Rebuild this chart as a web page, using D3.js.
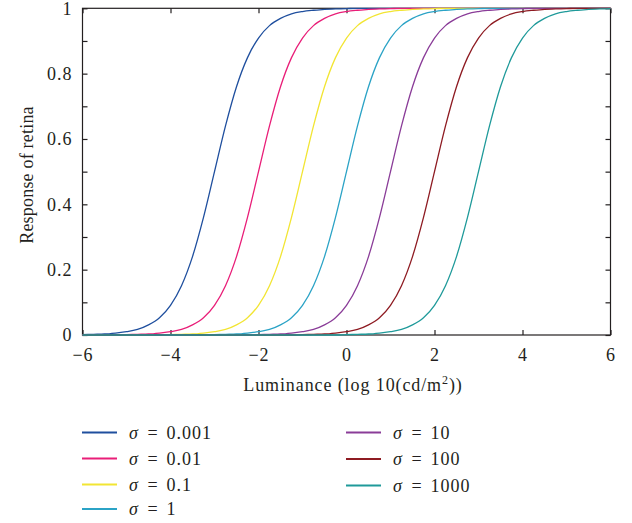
<!DOCTYPE html>
<html>
<head>
<meta charset="utf-8">
<script src="https://cdn.jsdelivr.net/npm/d3@7"></script>
<style>
  html, body { margin: 0; padding: 0; background: #fff; }
  svg { display: block; }
  text { font-family: "Liberation Serif", "DejaVu Serif", serif; fill: #231f20; }
</style>
</head>
<body>
<svg id="chart" width="632" height="523"></svg>
<script>
(function () {
// ---- data ----
const luminance = [-6,-5.75,-5.5,-5.25,-5,-4.75,-4.5,-4.25,-4,-3.75,-3.5,-3.25,-3,-2.75,-2.5,-2.25,-2,-1.75,-1.5,-1.25,-1,-0.75,-0.5,-0.25,0,0.25,0.5,0.75,1,1.25,1.5,1.75,2,2.25,2.5,2.75,3,3.25,3.5,3.75,4,4.25,4.5,4.75,5,5.25,5.5,5.75,6];

const sigmaLabels = ["0.001", "0.01", "0.1", "1", "10", "100", "1000"];

const resp0001 = [0.001,0.002,0.003,0.006,0.010,0.017,0.031,0.053,0.091,0.151,0.240,0.360,0.500,0.640,0.760,0.849,0.909,0.947,0.969,0.983,0.990,0.994,0.997,0.998,0.999,1,1,1,1,1,1,1,1,1,1,1,1,1,1,1,1,1,1,1,1,1,1,1,1];
const resp001 = [0,0,0,0,0.001,0.002,0.003,0.006,0.010,0.017,0.031,0.053,0.091,0.151,0.240,0.360,0.500,0.640,0.760,0.849,0.909,0.947,0.969,0.983,0.990,0.994,0.997,0.998,0.999,1,1,1,1,1,1,1,1,1,1,1,1,1,1,1,1,1,1,1,1];
const resp01 = [0,0,0,0,0,0,0,0,0.001,0.002,0.003,0.006,0.010,0.017,0.031,0.053,0.091,0.151,0.240,0.360,0.500,0.640,0.760,0.849,0.909,0.947,0.969,0.983,0.990,0.994,0.997,0.998,0.999,1,1,1,1,1,1,1,1,1,1,1,1,1,1,1,1];
const resp1 = [0,0,0,0,0,0,0,0,0,0,0,0,0.001,0.002,0.003,0.006,0.010,0.017,0.031,0.053,0.091,0.151,0.240,0.360,0.500,0.640,0.760,0.849,0.909,0.947,0.969,0.983,0.990,0.994,0.997,0.998,0.999,1,1,1,1,1,1,1,1,1,1,1,1];
const resp10 = [0,0,0,0,0,0,0,0,0,0,0,0,0,0,0,0,0.001,0.002,0.003,0.006,0.010,0.017,0.031,0.053,0.091,0.151,0.240,0.360,0.500,0.640,0.760,0.849,0.909,0.947,0.969,0.983,0.990,0.994,0.997,0.998,0.999,1,1,1,1,1,1,1,1];
const resp100 = [0,0,0,0,0,0,0,0,0,0,0,0,0,0,0,0,0,0,0,0,0.001,0.002,0.003,0.006,0.010,0.017,0.031,0.053,0.091,0.151,0.240,0.360,0.500,0.640,0.760,0.849,0.909,0.947,0.969,0.983,0.990,0.994,0.997,0.998,0.999,1,1,1,1];
const resp1000 = [0,0,0,0,0,0,0,0,0,0,0,0,0,0,0,0,0,0,0,0,0,0,0,0,0.001,0.002,0.003,0.006,0.010,0.017,0.031,0.053,0.091,0.151,0.240,0.360,0.500,0.640,0.760,0.849,0.909,0.947,0.969,0.983,0.990,0.994,0.997,0.998,0.999];

const xTicks = [-6, -4, -2, 0, 2, 4, 6];
const yTicksMajor = [0, 0.2, 0.4, 0.6, 0.8, 1];
const yTicksMinor = [0, 0.1, 0.2, 0.3, 0.4, 0.5, 0.6, 0.7, 0.8, 0.9, 1];

const seriesValues = [resp0001, resp001, resp01, resp1, resp10, resp100, resp1000];
const colors = ["#1f4f9e", "#e91e78", "#f2e533", "#2ba3c6", "#8a3c98", "#8e1b22", "#1f9a9a"];

// ---- layout ----
const svg = d3.select("#chart");
const x = d3.scaleLinear().domain([-6, 6]).range([82.5, 610.5]);
const y = d3.scaleLinear().domain([0, 1]).range([335, 8.3]);
const tickLen = 5;
const ink = "#231f20";
const FS = 18;

// frame
svg.append("rect")
  .attr("x", x(-6)).attr("y", y(1))
  .attr("width", x(6) - x(-6)).attr("height", y(0) - y(1))
  .attr("fill", "none").attr("stroke", ink).attr("stroke-width", 1.2);

// bottom axis (inward ticks)
const axB = svg.append("g").attr("transform", `translate(0,${y(0)})`)
  .call(d3.axisBottom(x).tickValues(xTicks).tickSizeInner(-tickLen).tickSizeOuter(0)
    .tickFormat(d => d < 0 ? "\u2212" + Math.abs(d) : String(d)).tickPadding(13));
axB.select(".domain").remove();
axB.selectAll("line").attr("stroke", ink).attr("stroke-width", 1.2);
axB.selectAll("text").attr("font-size", FS).attr("font-family", '"Liberation Serif", serif')
  .attr("fill", ink).attr("letter-spacing", 1);

// top axis ticks
const axT = svg.append("g").attr("transform", `translate(0,${y(1)})`)
  .call(d3.axisTop(x).tickValues(xTicks).tickSizeInner(-tickLen).tickSizeOuter(0).tickFormat(""));
axT.select(".domain").remove();
axT.selectAll("line").attr("stroke", ink).attr("stroke-width", 1.2);

// left axis: minor ticks + labels
const axL = svg.append("g").attr("transform", `translate(${x(-6)},0)`)
  .call(d3.axisLeft(y).tickValues(yTicksMinor).tickSizeInner(-tickLen).tickSizeOuter(0).tickFormat(""));
axL.select(".domain").remove();
axL.selectAll("line").attr("stroke", ink).attr("stroke-width", 1.2);

const axLL = svg.append("g").attr("transform", `translate(${x(-6)},0)`)
  .call(d3.axisLeft(y).tickValues(yTicksMajor).tickSize(0).tickPadding(10)
    .tickFormat(d => d === 0 || d === 1 ? String(d) : d3.format(".1f")(d)));
axLL.select(".domain").remove();
axLL.selectAll("text").attr("font-size", FS).attr("font-family", '"Liberation Serif", serif')
  .attr("fill", ink).attr("letter-spacing", 1);

// right axis ticks
const axR = svg.append("g").attr("transform", `translate(${x(6)},0)`)
  .call(d3.axisRight(y).tickValues(yTicksMinor).tickSizeInner(-tickLen).tickSizeOuter(0).tickFormat(""));
axR.select(".domain").remove();
axR.selectAll("line").attr("stroke", ink).attr("stroke-width", 1.2);

// curves
const line = d3.line()
  .x((d, i) => x(luminance[i]))
  .y(d => y(d))
  .curve(d3.curveMonotoneX);

seriesValues.forEach((vals, k) => {
  svg.append("path")
    .datum(vals)
    .attr("d", line)
    .attr("fill", "none")
    .attr("stroke", colors[k])
    .attr("stroke-width", 1.3);
});

// axis titles
const xt = svg.append("text")
  .attr("x", 353).attr("y", 391)
  .attr("text-anchor", "middle").attr("font-size", FS).attr("letter-spacing", 0.9);
xt.append("tspan").text("Luminance (log 10(cd/m");
xt.append("tspan").text("2").attr("font-size", 12).attr("dy", -7);
xt.append("tspan").text("))").attr("dy", 7);

svg.append("text")
  .attr("transform", "translate(33,175) rotate(-90)")
  .attr("text-anchor", "middle").attr("font-size", FS).attr("letter-spacing", 0.2)
  .text("Response of retina");

// legend
const legendPos = [
  [82, 432.5], [82, 458.5], [82, 484.5], [82, 509],
  [346, 432.5], [346, 459], [346, 485.5]
];
sigmaLabels.forEach((lab, k) => {
  const [lx, ly] = legendPos[k];
  const g = svg.append("g").attr("transform", `translate(${lx},${ly})`);
  g.append("line").attr("x1", 0).attr("x2", 35).attr("y1", 0).attr("y2", 0)
    .attr("stroke", colors[k]).attr("stroke-width", 1.8);
  g.append("text").attr("x", 47).attr("y", 6).attr("font-size", FS)
    .attr("font-style", "italic").text("\u03C3");
  g.append("text").attr("x", 70.5).attr("y", 6).attr("font-size", FS)
    .attr("text-anchor", "middle").text("=");
  g.append("text").attr("x", 84.5).attr("y", 6).attr("font-size", FS)
    .attr("letter-spacing", 1).text(lab);
});
})();
</script>
</body>
</html>
